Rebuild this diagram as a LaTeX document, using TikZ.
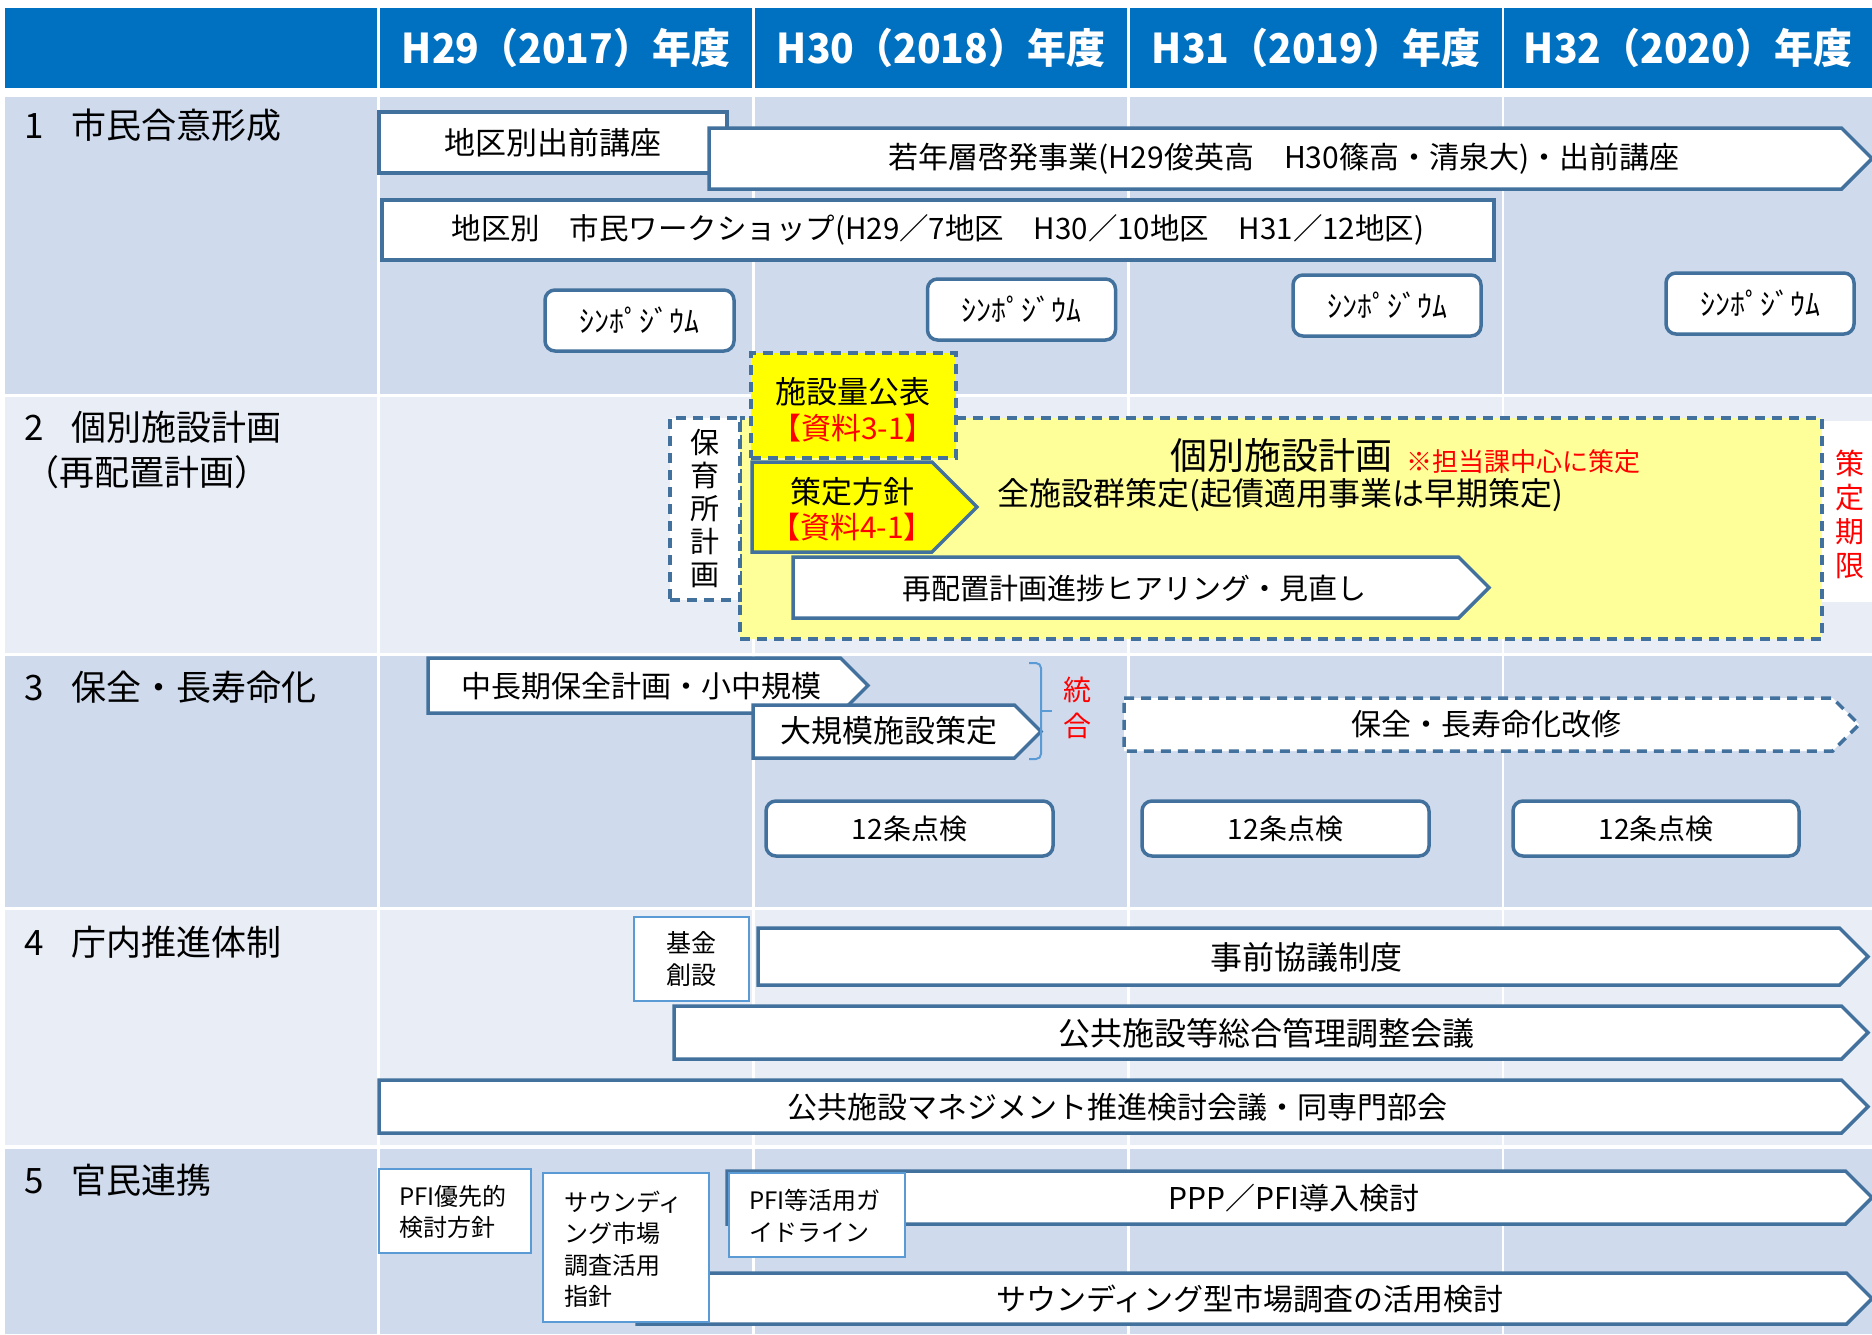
\documentclass[tikz,border=0pt]{standalone}
\usepackage{graphicx}
\usepackage{fontspec}
\setmainfont{Noto Sans CJK JP}
\definecolor{hdr}{RGB}{0,112,192}
\definecolor{rowd}{RGB}{207,219,237}
\definecolor{rowl}{RGB}{233,237,246}
\definecolor{bord}{RGB}{65,113,156}
\definecolor{thinb}{RGB}{91,155,213}
\definecolor{ylw}{RGB}{255,255,0}
\definecolor{lylw}{RGB}{255,255,153}
\definecolor{redt}{RGB}{255,0,0}
\newcommand{\fsz}[2]{\fontsize{#1}{#2}\selectfont}
\newcommand{\hdtext}[1]{\scalebox{0.95}[1]{#1}}
\newcommand{\pentshape}[5][]{%
  \draw[#1] (#2,#3) -- ({#4-(#5-#3)/2},#3) -- (#4,{(#3+#5)/2}) -- ({#4-(#5-#3)/2},#5) -- (#2,#5) -- cycle;}
\tikzset{
  bx/.style={draw=bord, line width=3.5pt, fill=white},
  dbx/.style={draw=bord, line width=3.5pt, dash pattern=on 10pt off 7pt},
  rbx/.style={bx, rounded corners=10pt, inner sep=0pt, font=\fsz{30}{34}},
  tbx/.style={draw=thinb, line width=2pt, fill=white},
  txt/.style={inner sep=0pt, font=\fsz{30}{34}},
  smalltxt/.style={inner sep=0pt, font=\fsz{24}{31.5}, align=left, anchor=west},
  lab/.style={inner sep=0pt, font=\fsz{35}{45}, anchor=west, align=left},
  hd/.style={inner sep=0pt, text=white, font=\fsz{41}{44}\bfseries},
  redtxt/.style={inner sep=0pt, text=redt},
  pal/.style={font=\fsz{30}{34}\addfontfeatures{CharacterWidth=AlternateProportional}}
}
\begin{document}
\begin{tikzpicture}[x=1pt,y=-1pt]
\useasboundingbox (0,0) rectangle (1872,1334);
\fill[white] (0,0) rectangle (1872,1334);
% ---------- table background ----------
\fill[hdr] (5,8) rectangle (1872,88);
\fill[rowd] (5,97) rectangle (1872,394);
\fill[rowl] (5,397) rectangle (1872,653);
\fill[rowd] (5,656) rectangle (1872,907);
\fill[rowl] (5,910) rectangle (1872,1145);
\fill[rowd] (5,1149) rectangle (1872,1334);
\foreach \cx in {378.5,753.5,1128.5,1503}
  \draw[white, line width=2.5pt] (\cx,8) -- (\cx,1334);
% ---------- header ----------
\node[hd] (h1) at (566,48) {\hdtext{H29（2017）年度}};
\node[hd] (h2) at (941,48) {\hdtext{H30（2018）年度}};
\node[hd] (h3) at (1316,48) {\hdtext{H31（2019）年度}};
\node[hd] (h4) at (1688,48) {\hdtext{H32（2020）年度}};
% ---------- row labels ----------
\node[lab] (r1) at (24,125) {1\hspace{28pt}市民合意形成};
\node[lab] (r2) at (24,450) {2\hspace{28pt}個別施設計画\\（再配置計画）};
\node[lab] (r3) at (24,687) {3\hspace{28pt}保全・長寿命化};
\node[lab] (r4) at (24,942) {4\hspace{28pt}庁内推進体制};
\node[lab] (r5) at (24,1180) {5\hspace{28pt}官民連携};
% ---------- row 1 ----------
\node[bx, txt, minimum width=348, minimum height=61, font=\fsz{31}{34}] (demae) at (553,142.5) {地区別出前講座};
\pentshape[bx]{709}{128}{1872}{189}
\node[txt] (wakate) at (1284,159) {若年層啓発事業(H29俊英高　H30篠高・清泉大)・出前講座};
\node[bx, txt, minimum width=1112, minimum height=60, font=\fsz{29.5}{34}] (ws) at (938,230) {地区別　市民ワークショップ(H29／7地区　H30／10地区　H31／12地区)};
\node[rbx, minimum width=189, minimum height=61] (sym1) at (639.5,320.5) {ｼﾝﾎﾟｼﾞｳﾑ};
\node[rbx, minimum width=188, minimum height=61] (sym2) at (1021.5,309.5) {ｼﾝﾎﾟｼﾞｳﾑ};
\node[rbx, minimum width=188, minimum height=61] (sym3) at (1387,305.5) {ｼﾝﾎﾟｼﾞｳﾑ};
\node[rbx, minimum width=188, minimum height=61] (sym4) at (1760,303.5) {ｼﾝﾎﾟｼﾞｳﾑ};
% ---------- row 2 ----------
\fill[white] (1822,421) rectangle (1872,602);
\node[redtxt, align=center, font=\fsz{29}{34}] (kigen) at (1850,514) {策\\定\\期\\限};
\draw[dbx, fill=lylw] (740,418) rectangle (1822,639);
\node[dbx, fill=white, minimum width=70, minimum height=182, inner sep=0pt, align=center, font=\fsz{29}{33}] (hoiku) at (705,509) {保\\育\\所\\計\\画};
\node[dbx, fill=ylw, minimum width=205, minimum height=105, inner sep=0pt] (ryo) at (853.5,405.5) {};
\node[txt, font=\fsz{31}{34}] (ryo1) at (853,392) {施設量公表};
\node[redtxt, pal] (ryo2) at (853,428) {【資料3-1】};
\pentshape[bx, fill=ylw]{752}{462}{977}{552}
\node[txt, font=\fsz{31}{34}] (hoshin1) at (852,492) {策定方針};
\node[redtxt, pal] (hoshin2) at (852,527) {【資料4-1】};
\node[txt, font=\fsz{37}{40}] (kobetsu) at (1281,455) {個別施設計画};
\node[redtxt, font=\fsz{26}{30}] (tanto) at (1523,462) {※担当課中心に策定};
\node[txt, font=\fsz{32}{34}] (zen) at (1280,495) {全施設群策定(起債適用事業は早期策定)};
\pentshape[bx]{793}{557}{1489}{618}
\node[txt, font=\fsz{29}{34}] (saihai) at (1134,588) {再配置計画進捗ヒアリング・見直し};
% ---------- row 3 ----------
\pentshape[bx]{428}{658}{868}{713}
\node[txt] (chucho) at (641,686) {中長期保全計画・小中規模};
\pentshape[bx]{753}{705}{1041}{758}
\node[txt, font=\fsz{31}{34}] (daikibo) at (889,731) {大規模施設策定};
\draw[thinb, line width=2pt, rounded corners=5pt] (1029,663) -| (1041,711) |- (1029,759);
\draw[thinb, line width=2pt] (1041,711) -- (1052,711);
\node[redtxt, align=center, font=\fsz{28}{36}] (togo) at (1077,708) {統\\合};
\pentshape[dbx, fill=white]{1124}{698}{1859}{751}
\node[txt] (kaishu) at (1486,724) {保全・長寿命化改修};
\node[rbx, minimum width=287, minimum height=55, font=\fsz{28}{32}] (ten1) at (909.5,828.5) {12条点検};
\node[rbx, minimum width=287, minimum height=55, font=\fsz{28}{32}] (ten2) at (1285.5,828.5) {12条点検};
\node[rbx, minimum width=286, minimum height=55, font=\fsz{28}{32}] (ten3) at (1656,828.5) {12条点検};
% ---------- row 4 ----------
\node[tbx, minimum width=115, minimum height=84, inner sep=0pt, align=center, font=\fsz{25}{32}] (kikin) at (691.5,959) {基金\\創設};
\pentshape[bx]{758}{928}{1868}{985}
\node[txt, font=\fsz{32}{34}] (jizen) at (1306,957) {事前協議制度};
\pentshape[bx]{674}{1006}{1868}{1059}
\node[txt, font=\fsz{32}{34}] (sogo) at (1266,1033) {公共施設等総合管理調整会議};
\pentshape[bx]{379}{1080}{1868}{1133}
\node[txt] (mgmt) at (1117,1107) {公共施設マネジメント推進検討会議・同専門部会};
% ---------- row 5 ----------
\pentshape[bx]{637}{1273}{1872}{1324}
\node[txt] (snd) at (1250,1299) {サウンディング型市場調査の活用検討};
\draw[tbx] (543,1173) rectangle (709,1322);
\node[smalltxt] (sndg) at (564,1249) {サウンディ\\ング市場\\調査活用\\指針};
\pentshape[bx]{727}{1171}{1872}{1224}
\node[txt] (ppp) at (1294,1198) {PPP／PFI導入検討};
\draw[tbx] (729,1173) rectangle (905,1257);
\node[smalltxt] (guide) at (749,1216) {PFI等活用ガ\\イドライン};
\draw[tbx] (379,1169) rectangle (531,1253);
\node[smalltxt] (yusen) at (399,1212) {PFI優先的\\検討方針};
\end{tikzpicture}
\end{document}
